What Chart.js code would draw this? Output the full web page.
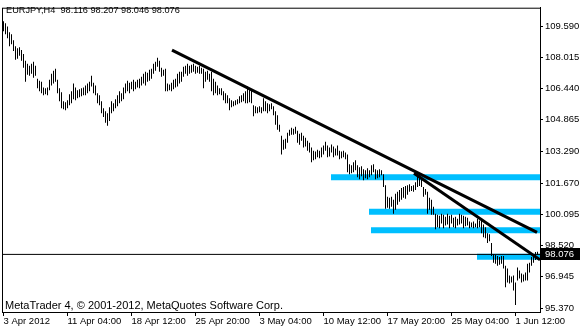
<!DOCTYPE html>
<html>
<head>
<meta charset="utf-8">
<script src="https://cdn.jsdelivr.net/npm/chart.js@4.4.1/dist/chart.umd.min.js"></script>
<style>
  html, body { margin: 0; padding: 0; background: #fff; }
  #wrap { width: 580px; height: 330px; position: relative; }
</style>
</head>
<body>
<div id="wrap"><canvas id="chart"></canvas></div>
<script>
const symbolTitle = 'EURJPY,H4  98.116 98.207 98.046 98.076';
const copyright = 'MetaTrader 4, \u00A9 2001-2012, MetaQuotes Software Corp.';
const lastPrice = 98.076;

// H4 bars, high / low
const highs = [
  109.83, 109.73, 109.57, 109.28, 109.18, 108.88, 108.58, 108.48, 108.53, 108.38,
  108.18, 107.84, 107.69, 107.59, 107.69, 107.79, 107.59, 106.94, 106.84, 106.79,
  106.50, 106.45, 106.50, 106.89, 107.19, 107.34, 107.44, 106.89, 106.45, 106.25,
  105.80, 105.75, 105.85, 106.15, 106.30, 106.69, 106.50, 106.35, 106.40, 106.45,
  106.50, 106.60, 106.69, 106.79, 107.09, 106.74, 106.60, 106.20, 106.10, 105.80,
  105.45, 105.30, 105.20, 105.50, 105.80, 105.70, 105.90, 106.10, 106.30, 106.20,
  106.50, 106.69, 106.84, 106.74, 106.79, 106.89, 106.79, 106.89, 106.94, 107.04,
  107.19, 107.29, 107.24, 107.39, 107.44, 107.69, 107.79, 107.99, 107.84, 107.49,
  107.39, 107.44, 106.69, 106.64, 106.74, 106.89, 106.94, 107.19, 107.29, 107.29,
  107.54, 107.59, 107.69, 107.59, 107.64, 107.69, 107.59, 107.54, 107.59, 107.49,
  107.44, 107.29, 107.34, 107.19, 107.29, 106.94, 106.79, 106.60, 106.45, 106.45,
  106.30, 106.20, 106.10, 105.95, 105.85, 105.80, 105.85, 105.90, 106.05, 106.10,
  106.20, 106.30, 106.55, 106.45, 106.40, 105.60, 105.55, 105.50, 105.55, 105.50,
  105.95, 105.80, 105.70, 105.65, 105.70, 105.55, 105.30, 105.10, 104.61, 104.06,
  103.86, 103.91, 104.21, 104.36, 104.46, 104.41, 104.51, 104.31, 104.16, 104.21,
  104.06, 103.96, 103.81, 103.71, 103.47, 103.31, 103.27, 103.36, 103.31, 103.47,
  103.57, 103.76, 103.57, 103.47, 103.62, 103.52, 103.42, 103.57, 103.31, 103.27,
  103.31, 103.22, 103.11, 102.62, 102.57, 102.72, 102.82, 102.57, 102.47, 102.52,
  102.37, 102.32, 102.42, 102.32, 102.57, 102.62, 102.37, 102.32, 102.37, 102.32,
  102.12, 101.57, 100.98, 100.93, 100.98, 100.83, 101.13, 101.23, 101.33, 101.43,
  101.48, 101.53, 101.57, 101.62, 101.53, 101.57, 101.72, 102.12, 102.07, 101.97,
  101.48, 101.38, 101.23, 100.93, 100.83, 100.48, 100.13, 100.08, 100.03, 100.13,
  100.08, 99.98, 100.13, 100.03, 100.08, 99.93, 99.98, 99.88, 100.13, 100.08,
  100.03, 99.98, 99.93, 99.74, 99.69, 99.74, 99.64, 99.88, 99.78, 99.83,
  99.59, 99.44, 99.14, 99.09, 98.65, 98.10, 98.05, 98.00, 97.95, 98.00,
  98.00, 97.51, 97.36, 97.01, 96.96, 97.01, 96.66, 97.41, 97.26, 97.11,
  97.06, 97.16, 97.60, 97.65, 97.95, 98.05, 98.20, 98.21
];
const lows = [
  109.33, 109.18, 108.98, 108.58, 108.68, 108.33, 107.89, 107.94, 108.09, 107.84,
  107.49, 106.79, 107.14, 107.09, 107.19, 106.99, 107.09, 106.45, 106.30, 106.20,
  106.10, 106.15, 106.10, 106.35, 106.60, 106.69, 106.79, 106.20, 105.80, 105.45,
  105.40, 105.35, 105.45, 105.60, 105.70, 105.90, 105.85, 105.95, 106.00, 106.05,
  106.10, 106.10, 106.20, 106.30, 106.55, 106.20, 106.10, 105.70, 105.60, 105.20,
  105.00, 104.71, 104.56, 104.81, 105.20, 105.30, 105.45, 105.55, 105.70, 105.80,
  105.90, 106.20, 106.30, 106.20, 106.40, 106.30, 106.40, 106.50, 106.45, 106.60,
  106.69, 106.60, 106.79, 106.84, 106.94, 107.19, 107.34, 107.54, 107.29, 107.04,
  107.09, 106.30, 106.30, 106.35, 106.30, 106.40, 106.50, 106.55, 106.69, 106.79,
  107.04, 107.19, 107.09, 107.19, 107.24, 107.29, 107.19, 107.24, 107.19, 107.19,
  106.45, 106.79, 106.89, 106.79, 106.30, 106.10, 106.20, 106.10, 106.15, 106.10,
  105.85, 105.70, 105.70, 105.35, 105.50, 105.55, 105.60, 105.65, 105.70, 105.75,
  105.80, 105.70, 105.70, 105.75, 105.70, 105.05, 105.20, 105.20, 105.25, 105.20,
  105.30, 105.30, 105.20, 105.30, 105.40, 105.10, 104.61, 104.36, 104.26, 103.11,
  103.36, 103.41, 103.71, 104.06, 104.11, 104.11, 104.16, 103.71, 103.61, 103.81,
  103.47, 103.52, 103.31, 103.22, 102.72, 102.82, 102.87, 102.97, 102.92, 102.97,
  103.11, 103.31, 102.97, 103.02, 103.22, 102.97, 103.07, 103.07, 102.87, 102.92,
  102.97, 102.87, 102.22, 102.12, 102.17, 102.22, 102.32, 101.97, 101.87, 102.02,
  101.82, 101.92, 101.87, 101.97, 102.07, 102.22, 101.87, 101.92, 101.97, 102.07,
  101.48, 100.38, 100.43, 100.38, 100.48, 100.13, 100.33, 100.58, 100.73, 100.83,
  100.93, 100.88, 101.08, 101.23, 101.28, 101.23, 101.33, 101.48, 101.53, 101.48,
  100.98, 101.08, 100.13, 100.33, 100.08, 100.08, 99.34, 99.44, 99.39, 99.64,
  99.39, 99.54, 99.59, 99.39, 99.64, 99.44, 99.39, 99.54, 99.59, 99.64,
  99.39, 99.49, 99.54, 99.39, 99.44, 99.39, 99.44, 99.39, 99.44, 99.14,
  98.94, 98.89, 98.65, 98.74, 98.00, 97.65, 97.60, 97.51, 97.55, 97.60,
  97.36, 96.42, 96.66, 96.61, 96.66, 96.26, 95.52, 96.76, 96.86, 96.66,
  96.71, 96.76, 96.76, 97.16, 97.51, 97.65, 97.80, 98.05
];

const timeLabels = ['3 Apr 2012', '11 Apr 04:00', '18 Apr 12:00', '25 Apr 20:00', '3 May 04:00',
  '10 May 12:00', '17 May 20:00', '25 May 04:00', '1 Jun 12:00'];
const timeTickBars = [0, 32, 64, 96, 128, 160, 192, 224, 256];
const priceTicks = [109.590, 108.015, 106.440, 104.865, 103.290, 101.670, 100.095, 98.520, 96.945, 95.370];

// trend lines as [bar, price] pairs
const trendLineA = [[84.25, 108.38], [266.75, 99.19]];
const trendLineB = [[205.25, 102.17], [268.25, 97.80]];

// blue zones: first bar and mid price, they run to the right edge
const zoneStarts = [163.75, 182.75, 183.75, 236.75];
const zonePrices = [101.97, 100.23, 99.29, 97.96];

const X_MIN = -0.75, X_MAX = 268.25;
const FONT = 'Liberation Sans, Arial, sans-serif';

const bars = highs.map((h, i) => ({ x: i, y: [lows[i], h] }));

const zoneSets = zoneStarts.map((s, k) => ({
  type: 'line',
  data: [{ x: s, y: zonePrices[k] }, { x: X_MAX, y: zonePrices[k] }],
  borderColor: '#00BFFF',
  borderWidth: 6,
  borderCapStyle: 'butt',
  pointRadius: 0,
  order: 5
}));

const lineSet = (pts, width) => ({
  type: 'line',
  data: pts.map(p => ({ x: p[0], y: p[1] })),
  borderColor: '#000',
  borderWidth: width,
  pointRadius: 0,
  order: 1
});

// frame, captions and the price marker
const overlay = {
  id: 'overlay',
  afterDraw(chart) {
    const { ctx, chartArea: a } = chart;
    const y = chart.scales.y.getPixelForValue(lastPrice);
    ctx.save();
    ctx.strokeStyle = '#000';
    ctx.lineWidth = 1;
    ctx.strokeRect(a.left + 0.5, a.top + 0.5, a.right - a.left, a.bottom - a.top);

    ctx.fillStyle = '#000';
    ctx.textBaseline = 'alphabetic';
    ctx.font = '9.2px ' + FONT;
    ctx.fillText(symbolTitle, 6, 13);
    ctx.font = '11px ' + FONT;
    ctx.fillText(copyright, 5, 308.5);

    ctx.fillRect(a.right + 1, Math.round(y) - 6, chart.width - a.right - 1, 12);
    ctx.fillStyle = '#fff';
    ctx.font = '9.5px ' + FONT;
    ctx.textBaseline = 'middle';
    ctx.fillText(lastPrice.toFixed(3), a.right + 5, Math.round(y) + 0.5);
    ctx.restore();
  }
};

new Chart(document.getElementById('chart'), {
  type: 'bar',
  data: {
    datasets: [
      {
        type: 'bar',
        data: bars,
        backgroundColor: '#000',
        borderWidth: 0,
        barThickness: 1,
        inflateAmount: 0,
        order: 3
      },
      ...zoneSets,
      lineSet(trendLineA, 3),
      lineSet(trendLineB, 3),
      lineSet([[X_MIN, lastPrice], [X_MAX, lastPrice]], 1)
    ]
  },
  options: {
    responsive: true,
    maintainAspectRatio: false,
    animation: false,
    layout: { padding: { left: 2, top: 3, right: 0, bottom: 0 } },
    plugins: {
      legend: { display: false },
      tooltip: { enabled: false }
    },
    scales: {
      x: {
        type: 'linear',
        min: X_MIN,
        max: X_MAX,
        offset: false,
        afterBuildTicks: s => { s.ticks = timeTickBars.map(v => ({ value: v })); },
        afterFit: s => { s.height = 18; },
        grid: { offset: false, drawOnChartArea: false, drawTicks: true, tickLength: 4, color: '#000' },
        border: { display: true, color: '#000' },
        ticks: {
          autoSkip: false,
          maxRotation: 0,
          minRotation: 0,
          align: 'start',
          padding: 0,
          color: '#000',
          font: { family: FONT, size: 9.5 },
          callback: v => timeLabels[timeTickBars.indexOf(v)]
        }
      },
      y: {
        type: 'linear',
        position: 'right',
        min: 95.171,
        max: 110.519,
        afterBuildTicks: s => { s.ticks = priceTicks.map(v => ({ value: v })); },
        afterFit: s => { s.width = 40; },
        grid: { drawOnChartArea: false, drawTicks: true, tickLength: 3, color: '#000' },
        border: { display: true, color: '#000' },
        ticks: {
          padding: 2,
          color: '#000',
          font: { family: FONT, size: 9.5 },
          callback: v => v.toFixed(3)
        }
      }
    }
  },
  plugins: [overlay]
});
</script>
</body>
</html>
